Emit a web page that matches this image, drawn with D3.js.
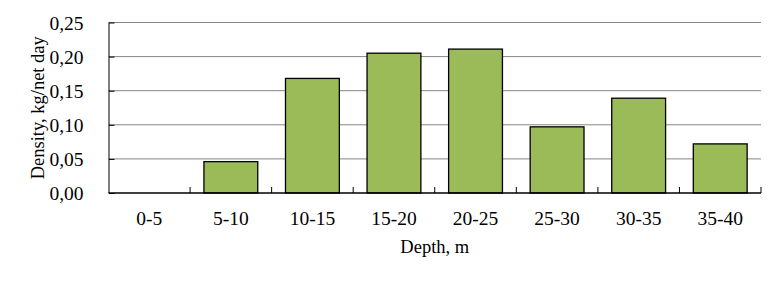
<!DOCTYPE html>
<html>
<head>
<meta charset="utf-8">
<script src="https://cdn.jsdelivr.net/npm/d3@7"></script>
<style>
  body { margin: 0; background: #fff; }
  svg text { font-family: "Liberation Serif", "Times New Roman", serif; fill: #000; }
</style>
</head>
<body>
<div id="chart"></div>
<script>
'use strict'

const depths = ["0-5", "5-10", "10-15", "15-20", "20-25", "25-30", "30-35", "35-40"]
const density = [0, 0.046, 0.168, 0.205, 0.211, 0.097, 0.139, 0.072]
const yTicks = [0, 0.05, 0.10, 0.15, 0.20, 0.25]

const width = 783
const height = 283
const margin = {top: 22.5, right: 22, bottom: 90, left: 108.5}
const innerW = width - margin.left - margin.right
const innerH = height - margin.top - margin.bottom

const svg = d3.select("#chart").append("svg")
  .attr("width", width)
  .attr("height", height)

const g = svg.append("g")
  .attr("transform", "translate(" + margin.left + "," + margin.top + ")")

const x = d3.scaleBand().domain(depths).range([0, innerW])
  .paddingInner(0.34).paddingOuter(0.17)

const y = d3.scaleLinear().domain([0, 0.25]).range([innerH, 0])

const fmt = d => d3.format(".2f")(d).replace(".", ",")

// gridlines
g.append("g")
  .selectAll("line")
  .data(yTicks.slice(1))
  .enter().append("line")
    .attr("x1", 0).attr("x2", innerW)
    .attr("y1", d => y(d)).attr("y2", d => y(d))
    .attr("stroke", "#868686")
    .attr("stroke-width", 1)

// bars
g.append("g")
  .selectAll("rect")
  .data(depths)
  .enter().append("rect")
    .attr("x", d => x(d))
    .attr("width", x.bandwidth())
    .attr("y", (d, i) => y(density[i]))
    .attr("height", (d, i) => innerH - y(density[i]))
    .attr("fill", "#9BBB59")
    .attr("stroke", (d, i) => density[i] > 0 ? "#000" : "none")
    .attr("stroke-width", 1.3)

// y axis
const yAxis = g.append("g")
  .call(d3.axisLeft(y).tickValues(yTicks).tickFormat(fmt).tickSize(-6).tickPadding(25))
yAxis.select(".domain").attr("stroke", "#000").attr("d", "M0.5," + innerH + "V0")
yAxis.selectAll(".tick line").attr("stroke", "#000").attr("x1", 0.5)
yAxis.selectAll("text").attr("font-size", "19.5px").attr("dy", "0.34em")

// x axis
const xAxisG = g.append("g").attr("transform", "translate(0," + innerH + ")")
xAxisG.append("line")
  .attr("x1", 0).attr("x2", innerW)
  .attr("y1", 0).attr("y2", 0)
  .attr("stroke", "#000").attr("stroke-width", 1.3)

const step = x.step()
const boundaries = d3.range(1, depths.length + 1).map(i => x(depths[0]) - x.paddingOuter() * step + i * step)
xAxisG.selectAll(".xt")
  .data(boundaries)
  .enter().append("line")
    .attr("class", "xt")
    .attr("x1", d => d).attr("x2", d => d)
    .attr("y1", 0).attr("y2", -6)
    .attr("stroke", "#000")

xAxisG.selectAll(".xl")
  .data(depths)
  .enter().append("text")
    .attr("class", "xl")
    .attr("x", d => x(d) + x.bandwidth() / 2)
    .attr("y", 32)
    .attr("text-anchor", "middle")
    .attr("font-size", "19.5px")
    .text(d => d)

// axis titles
svg.append("text")
  .attr("x", margin.left + innerW / 2)
  .attr("y", 253)
  .attr("text-anchor", "middle")
  .attr("font-size", "18.5px")
  .text("Depth, m")

svg.append("text")
  .attr("transform", "translate(44," + (margin.top + innerH / 2) + ") rotate(-90)")
  .attr("text-anchor", "middle")
  .attr("font-size", "18.5px")
  .text("Density, kg/net day")
</script>
</body>
</html>
